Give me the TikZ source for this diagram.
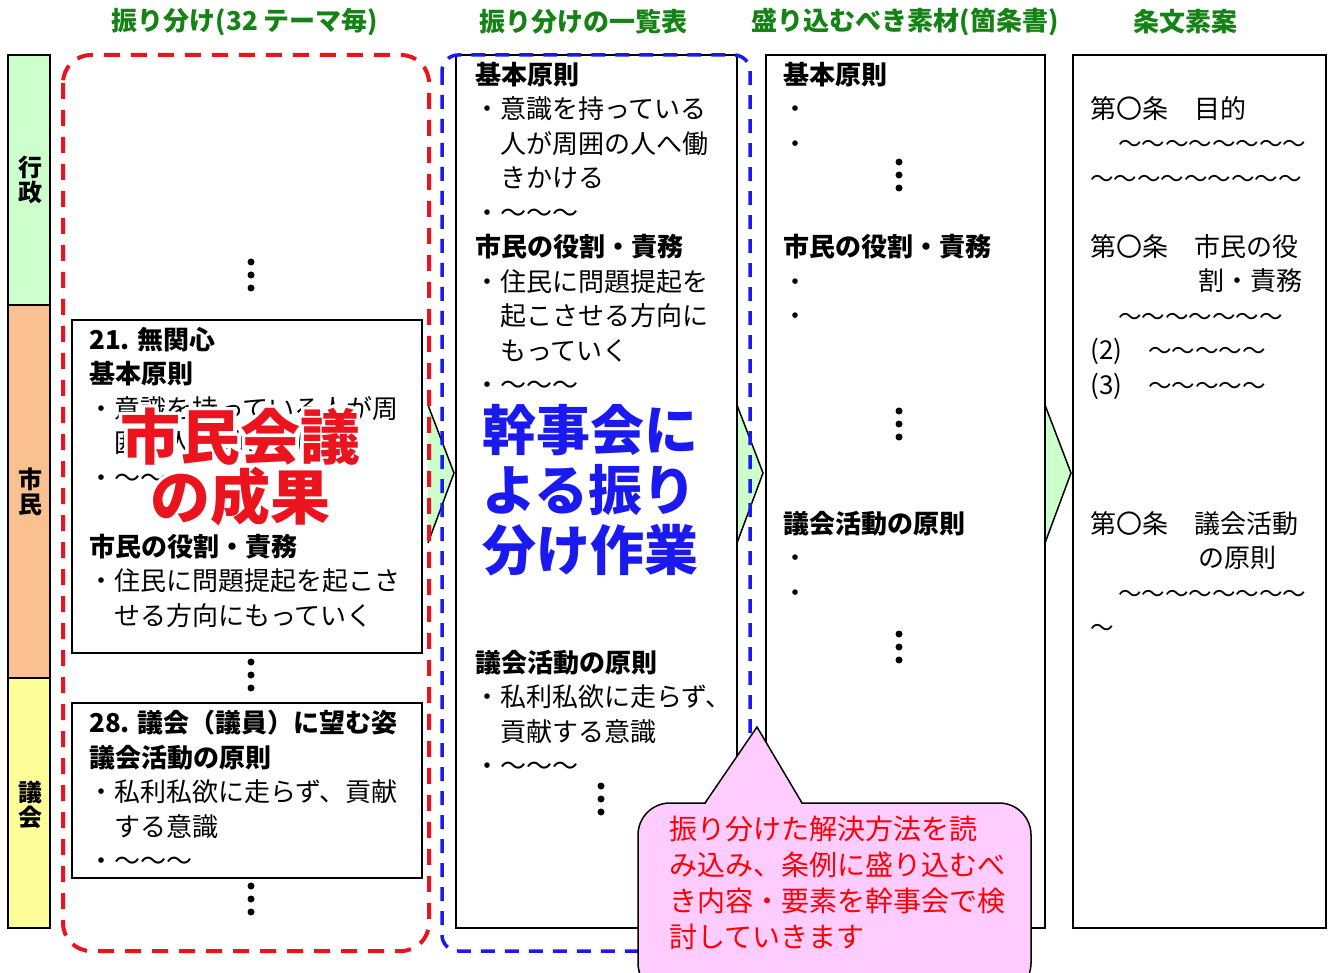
\documentclass[tikz,border=0pt]{standalone}
\usepackage{fontspec}
\setmainfont{Noto Sans CJK JP}
\newfontfamily\fuchi[FakeBold=12]{Noto Sans CJK JP}
\definecolor{midori}{RGB}{20,130,20}
\definecolor{usumidori}{RGB}{204,255,204}
\definecolor{daidai}{RGB}{250,192,144}
\definecolor{kiiro}{RGB}{255,255,153}
\definecolor{momo}{RGB}{255,204,255}
\definecolor{ao}{RGB}{25,25,240}
\definecolor{aka}{RGB}{235,20,30}
\newcommand\bul{\makebox[25pt][c]{・}}
\newcommand\ind{\hspace*{25pt}}
\newcommand\nami[1]{{\fontsize{23.5}{34.5}\selectfont #1}}
\tikzset{
  waku/.style={draw, line width=1.5pt},
  bun/.style={anchor=north west, inner sep=0pt, align=left, font=\fontsize{26}{34.5}\selectfont},
  midashi/.style={font=\bfseries\fontsize{26}{30}\selectfont, text=midori, inner sep=0pt},
  tate/.style={font=\bfseries\fontsize{24}{25}\selectfont, align=center, inner sep=0pt},
  seika/.style={font=\bfseries\fontsize{60}{60}\selectfont, align=center, inner sep=0pt},
  hasen/.style={line width=4pt, dash pattern=on 16pt off 11pt, rounded corners=#1},
  hasen/.default=20
}
\begin{document}
\begin{tikzpicture}[x=1pt,y=-1pt]
\useasboundingbox[fill=white] (0,0) rectangle (1328,973);
\filldraw[fill=usumidori, line width=1.5pt] (8,55) rectangle (50,305);
\filldraw[fill=daidai, line width=1.5pt] (8,305) rectangle (50,678);
\filldraw[fill=kiiro, line width=1.5pt] (8,678) rectangle (50,928);
\node[tate] (gyosei) at (30,180) {行\\政};
\node[tate] (shimin) at (30,492) {市\\民};
\node[tate] (gikai) at (30,805) {議\\会};
\node[midashi] (h1) at (245,22) {振り分け(32 テーマ毎)};
\node[midashi] (h2) at (583,22) {振り分けの一覧表};
\node[midashi] (h3) at (905,22) {盛り込むべき素材(箇条書)};
\node[midashi] (h4) at (1185,22) {条文素案};
\foreach \x in {428,737,1045} {
  \fill[usumidori] (\x,405) -- (\x+26,473) -- (\x,543) -- cycle;
  \draw[line width=1.5pt] (\x,405) -- (\x+26,473) -- (\x,543);
}
\draw[waku] (456,55) rectangle (737,928);
\draw[waku] (766,55) rectangle (1045,928);
\draw[waku] (1073,55) rectangle (1326,928);
\draw[waku] (72,320) rectangle (422,653);
\draw[waku] (72,703) rectangle (422,878);
\draw[aka, hasen=28] (63,55) rectangle (429,951);
\draw[ao, hasen=16, line width=3.5pt, dash pattern=on 14pt off 10pt] (442,55) rectangle (750,951);
\foreach \x/\y in {251/262, 251/662, 251/886, 601/786, 899/162, 899/411, 899/634}
  \foreach \d in {0,13,26}
    \fill (\x,\y+\d) circle[radius=3.5];
\node[bun] (ichiran1) at (475,62) {{\bfseries 基本原則}\\\bul 意識を持っている\\\ind 人が周囲の人へ働\\\ind きかける\\\bul 〜〜〜\\{\bfseries 市民の役割・責務}\\\bul 住民に問題提起を\\\ind 起こさせる方向に\\\ind もっていく\\\bul 〜〜〜};
\node[bun] (ichiran2) at (475,650) {{\bfseries 議会活動の原則}\\\bul 私利私欲に走らず、\\\ind 貢献する意識\\\bul 〜〜〜};
\node[font=\bfseries\fontsize{54}{60}\selectfont, text=ao, align=left, inner sep=0pt] (kanjikai) at (590,490) {幹事会に\\よる振り\\分け作業};
\node[bun] (sozai1) at (783,62) {{\bfseries 基本原則}\\\bul\\\bul};
\node[bun] (sozai2) at (783,234) {{\bfseries 市民の役割・責務}\\\bul\\\bul};
\node[bun] (sozai3) at (783,511) {{\bfseries 議会活動の原則}\\\bul\\\bul};
\node[bun] (jobun1) at (1090,96) {第〇条　目的\\\hspace*{28pt}\nami{〜〜〜〜〜〜〜〜}\\\nami{〜〜〜〜〜〜〜〜〜}};
\node[bun] (jobun2) at (1090,234) {第〇条　市民の役\\\hspace*{108pt}割・責務\\\hspace*{28pt}\nami{〜〜〜〜〜〜〜}\\(2)　\nami{〜〜〜〜〜}\\(3)　\nami{〜〜〜〜〜}};
\node[bun] (jobun3) at (1090,511) {第〇条　議会活動\\\hspace*{108pt}の原則\\\hspace*{28pt}\nami{〜〜〜〜〜〜〜〜}\\\nami{〜}};
\node[bun] (mukanshin) at (89,327) {{\bfseries 21. 無関心}\\{\bfseries 基本原則}\\\bul 意識を持っている人が周\\\ind 囲の人へ働きかける\\\bul 〜〜〜\\[34.5pt]{\bfseries 市民の役割・責務}\\\bul 住民に問題提起を起こさ\\\ind せる方向にもっていく};
\node[bun] (nozomu) at (89,710) {{\bfseries 28. 議会（議員）に望む姿}\\{\bfseries 議会活動の原則}\\\bul 私利私欲に走らず、貢献\\\ind する意識\\\bul 〜〜〜};
\node[seika, text=white, font=\fuchi\bfseries\fontsize{60}{60}\selectfont] (fuchidori) at (240,467) {市民会議\\の成果};
\node[seika, text=aka] (seika) at (240,467) {市民会議\\の成果};
\filldraw[fill=momo, line width=1.5pt, rounded corners=32] (638,803) rectangle (1031,995);
\fill[momo] (705,805) -- (757,727) -- (802,805) -- cycle;
\draw[line width=1.5pt] (705,803) -- (757,727) -- (802,803);
\node[anchor=north west, inner sep=0pt, align=left, text=red, font=\fontsize{28}{36}\selectfont] (kentou) at (669,816) {振り分けた解決方法を読\\み込み、条例に盛り込むべ\\き内容・要素を幹事会で検\\討していきます};
\end{tikzpicture}
\end{document}
